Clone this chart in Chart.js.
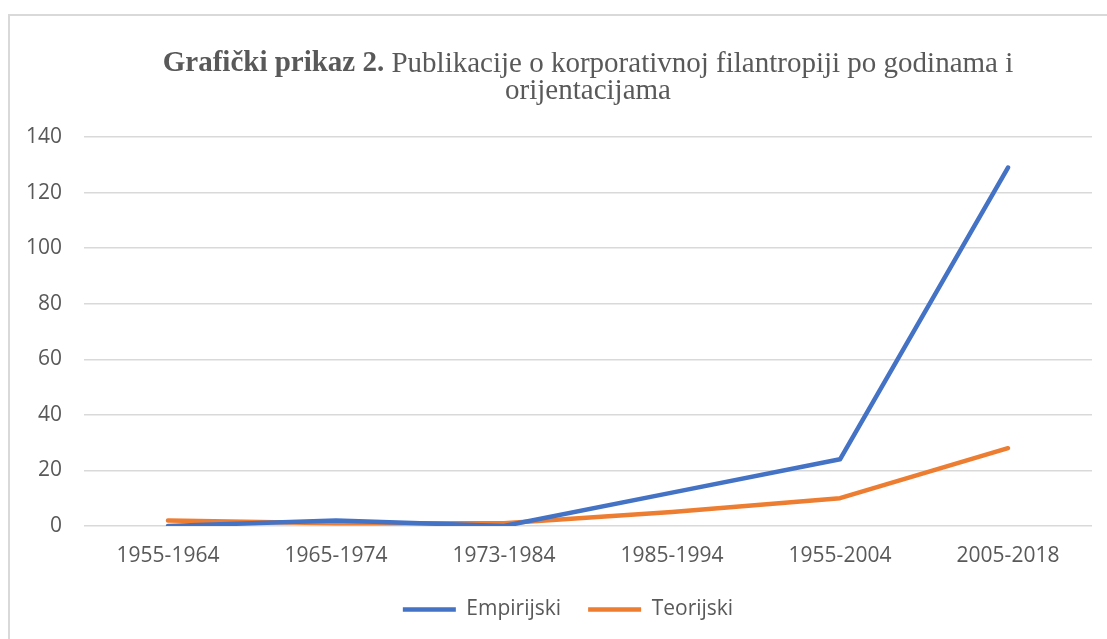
<!DOCTYPE html>
<html>
<head>
<meta charset="utf-8">
<script src="https://cdn.jsdelivr.net/npm/chart.js@4/dist/chart.umd.min.js"></script>
<style>
  html, body { margin: 0; padding: 0; background: #fff; overflow: hidden; width: 1107px; height: 639px; }
  #frame { position: absolute; left: 8px; top: 14px; width: 1200px; height: 700px; border: 2px solid #d9d9d9; box-sizing: border-box; }
  #wrap { position: absolute; left: 0; top: 0; width: 1136px; height: 639px; }
</style>
</head>
<body>
<div id="frame"></div>
<div id="wrap"><canvas id="c" width="1136" height="639"></canvas></div>
<script>
const categories = ["1955-1964", "1965-1974", "1973-1984", "1985-1994", "1955-2004", "2005-2018"];
const empirijski = [0, 2, 0, 12, 24, 129];
const teorijski = [2, 1, 1, 5, 10, 28];
const seriesNames = ["Empirijski", "Teorijski"];
const yTicks = [0, 20, 40, 60, 80, 100, 120, 140];
const titleBold = "Grafički prikaz 2.";
const titleRest = " Publikacije o korporativnoj filantropiji po godinama i";
const titleLine2 = "orijentacijama";

const TEXT = "#595959";
const FONT = "'Open Sans', 'Noto Sans', sans-serif";

const titlePlugin = {
  id: "mixedTitle",
  beforeDraw(chart) {
    // center the legend under the plot area, as in the reference
    if (chart.legend) {
      chart.legend.left = 44;
      chart.legend.right = chart.chartArea.right;
    }
  },
  afterDraw(chart) {
    const ctx = chart.ctx;
    const ca = chart.chartArea;
    const cx = (ca.left + ca.right) / 2;
    ctx.save();
    ctx.fillStyle = TEXT;
    ctx.textBaseline = "middle";
    ctx.textAlign = "left";
    const bFont = "bold 29px 'Liberation Serif', 'Times New Roman', serif";
    const nFont = "29px 'Liberation Serif', 'Times New Roman', serif";
    ctx.font = bFont;
    const wb = ctx.measureText(titleBold).width;
    ctx.font = nFont;
    const wr = ctx.measureText(titleRest).width;
    const x0 = cx - (wb + wr) / 2;
    ctx.font = bFont;
    ctx.fillText(titleBold, x0, 64);
    ctx.font = nFont;
    ctx.fillText(titleRest, x0 + wb, 64);
    ctx.textAlign = "center";
    ctx.fillText(titleLine2, cx, 91);
    ctx.restore();
  }
};

new Chart(document.getElementById("c"), {
  type: "line",
  data: {
    labels: categories,
    datasets: [
      { label: seriesNames[0], data: empirijski, borderColor: "#4472c4", backgroundColor: "#4472c4",
        borderWidth: 4.5, pointRadius: 0, pointHoverRadius: 0, tension: 0, borderCapStyle: "round", borderJoinStyle: "round",
        pointStyle: "line" },
      { label: seriesNames[1], data: teorijski, borderColor: "#ed7d31", backgroundColor: "#ed7d31",
        borderWidth: 4.5, pointRadius: 0, pointHoverRadius: 0, tension: 0, borderCapStyle: "round", borderJoinStyle: "round",
        pointStyle: "line" }
    ]
  },
  options: {
    responsive: false,
    animation: false,
    events: [],
    layout: { padding: { top: 137, left: 0, right: 44, bottom: 9 } },
    plugins: {
      title: { display: false },
      tooltip: { enabled: false },
      legend: {
        position: "bottom",
        labels: {
          usePointStyle: true,
          pointStyleWidth: 53,
          boxHeight: 21,
          padding: 27,
          color: TEXT,
          font: { family: FONT, size: 21 }
        }
      }
    },
    scales: {
      x: {
        offset: true,
        grid: { display: false, drawTicks: false, offset: true },
        border: { display: false },
        ticks: { color: TEXT, font: { family: FONT, size: 21 }, padding: 17, maxRotation: 0, autoSkip: false },
        afterFit(scale) { scale.height = 46; }
      },
      y: {
        min: 0, max: 140,
        afterBuildTicks(scale) { scale.ticks = yTicks.map(v => ({ value: v })); },
        grid: { color: "#d9d9d9", lineWidth: 1.5, drawTicks: false },
        border: { display: false },
        ticks: { color: TEXT, font: { family: FONT, size: 21 }, padding: 22 },
        afterFit(scale) { scale.width = 84; }
      }
    }
  },
  plugins: [titlePlugin]
});
</script>
</body>
</html>
